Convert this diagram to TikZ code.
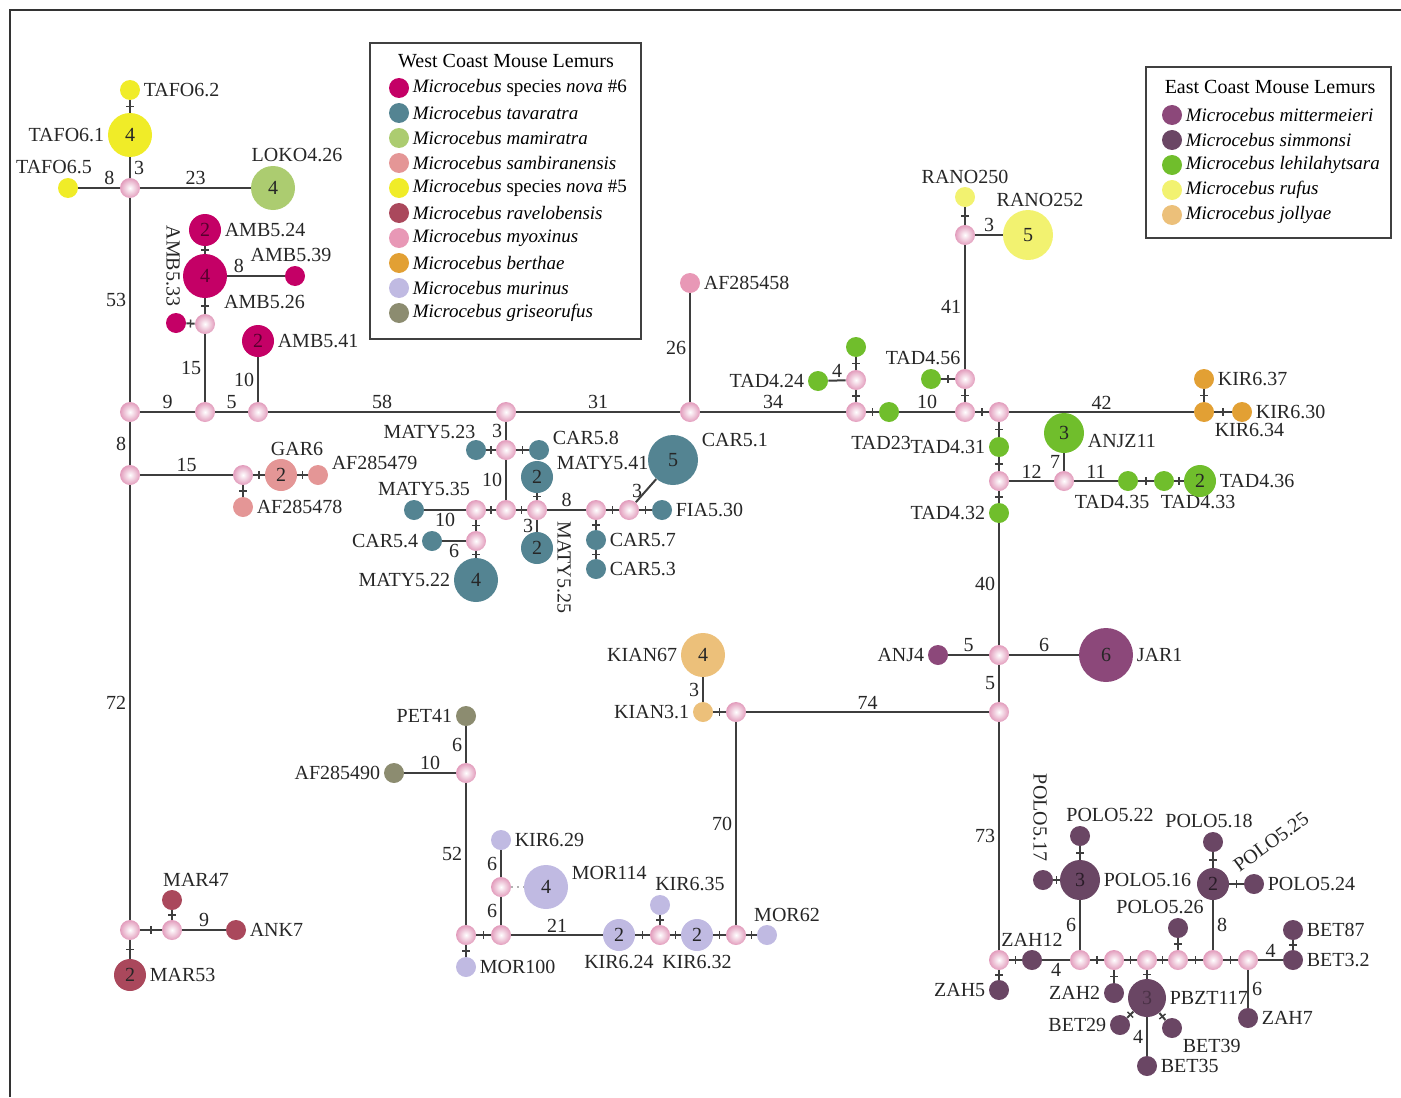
\documentclass[tikz,border=0pt]{standalone}
\usepackage{fontspec}
\setmainfont{Liberation Serif}
\usepackage{xcolor}
\usepackage{tikz}
\usetikzlibrary{positioning}

\definecolor{novasix}{RGB}{196,0,102}
\definecolor{tavaratra}{RGB}{84,132,146}
\definecolor{mamiratra}{RGB}{172,204,112}
\definecolor{sambiran}{RGB}{228,150,150}
\definecolor{novafive}{RGB}{240,236,40}
\definecolor{ravelo}{RGB}{170,72,92}
\definecolor{myoxinus}{RGB}{232,152,182}
\definecolor{berthae}{RGB}{226,160,52}
\definecolor{murinus}{RGB}{192,186,226}
\definecolor{griseo}{RGB}{140,140,112}
\definecolor{mitter}{RGB}{140,72,122}
\definecolor{simmonsi}{RGB}{106,70,100}
\definecolor{lehila}{RGB}{112,190,44}
\definecolor{rufus}{RGB}{242,242,112}
\definecolor{jollyae}{RGB}{236,192,122}
\definecolor{medpink}{RGB}{226,156,188}
\definecolor{linegray}{RGB}{62,62,62}

\begin{document}
\begin{tikzpicture}[
  x=0.5pt, y=-0.5pt,
  font=\fontsize{10}{12}\selectfont
]
\tikzset{
    hap/.style = {circle, inner sep=0pt, minimum size=10pt, text=black!85},
    hapII/.style = {hap, minimum size=16pt},
    hapIII/.style = {hap, minimum size=20pt},
    hapIV/.style = {hap, minimum size=22pt},
    hapV/.style = {hap, minimum size=25pt},
    hapVI/.style = {hap, minimum size=27pt},
    med/.style = {circle, inner sep=0pt, minimum size=10pt, shade, inner color=white, outer color=medpink},
    conn/.style = {draw=linegray, line width=1pt},
    mutmark/.style = {midway, sloped, fill=linegray, inner sep=0pt, minimum width=0.7pt, minimum height=4pt},
    edgelabL/.style = {midway, left, inner sep=1.5pt, text=black!85},
    edgelabR/.style = {midway, right, inner sep=1.5pt, text=black!85},
    edgelabA/.style = {midway, above, inner sep=1pt, text=black!85},
    edgelabAL/.style = {edgelabA, pos=0.2},
    edgelabAR/.style = {edgelabA, pos=0.75},
    edgelabB/.style = {midway, below, inner sep=1pt, text=black!85},
    every label/.style = {inner sep=1.5pt, text=black!85},
    legframe/.style = {draw=black!75, line width=1pt},
    legkey/.style = {circle, inner sep=0pt, minimum size=10pt}
}
\useasboundingbox (0,0) rectangle (1401,1097);
\draw[line width=1pt, black!80] (10,1097) -- (10,10) -- (1401,10);

% west: TAFO / AMB / LOKO
\node[hapIV, fill=novafive, label=left:TAFO6.1] (TAFO61) at (130,135) {4};
\node[hap, fill=novafive, label=right:TAFO6.2] (TAFO62) at (130,90) {};
\node[hap, fill=novafive, label={[xshift=-7pt]above:TAFO6.5}] (TAFO65) at (68,188) {};
\node[med] (M1) at (130,188) {};
\node[hapIV, fill=mamiratra, label={[xshift=12pt]above:LOKO4.26}] (LOKO426) at (273,188) {4};
\node[med] (M2) at (130,412) {};
\node[med] (M3) at (205,412) {};
\node[med] (M4) at (258,412) {};
\node[med] (M5) at (205,324) {};
\node[hap, fill=novasix] (AMB533) at (176,323) {};
\node[rotate=-90, anchor=east, inner sep=3pt, text=black!85] (lAMB533) at ([xshift=-1.5pt]AMB533.north) {AMB5.33};
\node[hapIV, fill=novasix, text=novasix!45!black, label=below right:AMB5.26] (AMB526) at (205,276) {4};
\node[hapII, fill=novasix, text=novasix!45!black, label=right:AMB5.24] (AMB524) at (205,230) {2};
\node[hap, fill=novasix, label={[xshift=-2pt]above:AMB5.39}] (AMB539) at (295,276) {};
\node[hapII, fill=novasix, text=novasix!45!black, label=right:AMB5.41] (AMB541) at (258,341) {2};

% west: GAR / MAR
\node[med] (M6) at (130,475) {};
\node[med] (M7) at (243,475) {};
\node[hapII, fill=sambiran, label={[xshift=8pt]above:GAR6}] (GAR6) at (281,475) {2};
\node[hap, fill=sambiran, label={[yshift=6pt]right:AF285479}] (AF285479) at (318,475) {};
\node[hap, fill=sambiran, label=right:AF285478] (AF285478) at (243,507) {};
\node[med] (M8) at (130,930) {};
\node[med] (M9) at (172,930) {};
\node[hap, fill=ravelo, label={[xshift=12pt]above:MAR47}] (MAR47) at (172,900) {};
\node[hap, fill=ravelo, label=right:ANK7] (ANK7) at (236,930) {};
\node[hapII, fill=ravelo, label=right:MAR53] (MAR53) at (130,975) {2};

% centre: MATY / CAR
\node[med] (M10) at (506,412) {};
\node[med] (M11) at (690,412) {};
\node[hap, fill=myoxinus, label=right:AF285458] (AF285458) at (690,283) {};
\node[med] (M12) at (856,412) {};
\node[med] (M13) at (506,450) {};
\node[hap, fill=tavaratra, label={[xshift=5pt]above left:MATY5.23}] (MATY523) at (476,450) {};
\node[hap, fill=tavaratra, label={[yshift=6pt]right:CAR5.8}] (CAR58) at (539,450) {};
\node[med] (M14) at (506,510) {};
\node[med] (M15) at (476,510) {};
\node[hap, fill=tavaratra, label={[xshift=5pt]above:MATY5.35}] (MATY535) at (414,510) {};
\node[med] (M16) at (476,541) {};
\node[hap, fill=tavaratra, label=left:CAR5.4] (CAR54) at (432,541) {};
\node[hapIV, fill=tavaratra, label=left:MATY5.22] (MATY522) at (476,580) {4};
\node[med] (M17) at (537,510) {};
\node[hapII, fill=tavaratra, label={[yshift=7pt]right:MATY5.41}] (MATY541) at (537,477) {2};
\node[hapII, fill=tavaratra] (MATY525) at (537,548) {2};
\node[rotate=-90, anchor=south west, inner sep=1pt, text=black!85] (lMATY525) at (555,519) {MATY5.25};
\node[med] (M18) at (596,510) {};
\node[hap, fill=tavaratra, label=right:CAR5.7] (CAR57) at (596,540) {};
\node[hap, fill=tavaratra, label=right:CAR5.3] (CAR53) at (596,569) {};
\node[med] (M19) at (629,510) {};
\node[hap, fill=tavaratra, label=right:FIA5.30] (FIA530) at (662,510) {};
\node[hapV, fill=tavaratra, label={[yshift=10pt]right:CAR5.1}] (CAR51) at (673,460) {5};

% east: TAD / RANO / KIR
\node[med] (M20) at (856,380) {};
\node[hap, fill=lehila] (TADtop) at (856,347) {};
\node[hap, fill=lehila, label=left:TAD4.24] (TAD424) at (818,381) {};
\node[hap, fill=lehila, label={[xshift=-4pt, yshift=-5pt]below:TAD23}] (TAD23) at (889,412) {};
\node[med] (M21) at (965,412) {};
\node[med] (M22) at (965,379) {};
\node[hap, fill=lehila, label={[xshift=-4pt]above:TAD4.56}] (TAD456) at (931,379) {};
\node[med] (M23) at (965,235) {};
\node[hap, fill=rufus, label=above:RANO250] (RANO250) at (965,197) {};
\node[hapV, fill=rufus, label={[xshift=6pt]above:RANO252}] (RANO252) at (1028,235) {5};
\node[med] (M24) at (999,412) {};
\node[hap, fill=berthae, label=below right:KIR6.34] (KIR634) at (1204,412) {};
\node[hap, fill=berthae, label=right:KIR6.37] (KIR637) at (1204,379) {};
\node[hap, fill=berthae, label=right:KIR6.30] (KIR630) at (1242,412) {};
\node[hap, fill=lehila, label=left:TAD4.31] (TAD431) at (999,447) {};
\node[med] (M25) at (999,481) {};
\node[med] (M26) at (1064,481) {};
\node[hapIII, fill=lehila, label={[yshift=-4pt]right:ANJZ11}] (ANJZ11) at (1064,433) {3};
\node[hap, fill=lehila, label={[xshift=-8pt]below:TAD4.35}] (TAD435) at (1128,481) {};
\node[hap, fill=lehila, label={[xshift=17pt]below:TAD4.33}] (TAD433) at (1164,481) {};
\node[hapII, fill=lehila, label=right:TAD4.36] (TAD436) at (1200,481) {2};
\node[hap, fill=lehila, label=left:TAD4.32] (TAD432) at (999,513) {};

% east: JAR / KIAN / MOR
\node[med] (M27) at (999,655) {};
\node[hap, fill=mitter, label=left:ANJ4] (ANJ4) at (938,655) {};
\node[hapVI, fill=mitter, label=right:JAR1] (JAR1) at (1106,655) {6};
\node[med] (M28) at (999,712) {};
\node[med] (M29) at (736,712) {};
\node[hap, fill=jollyae, label=left:KIAN3.1] (KIAN31) at (703,712) {};
\node[hapIV, fill=jollyae, label=left:KIAN67] (KIAN67) at (703,655) {4};
\node[med] (M30) at (736,935) {};
\node[hap, fill=murinus, label={[xshift=10pt]above:MOR62}] (MOR62) at (767,935) {};
\node[hapII, fill=murinus, label=below:KIR6.32] (KIR632) at (697,935) {2};
\node[med] (M31) at (660,935) {};
\node[hap, fill=murinus, label={[xshift=15pt]above:KIR6.35}] (KIR635) at (660,905) {};
\node[hapII, fill=murinus, label=below:KIR6.24] (KIR624) at (619,935) {2};
\node[med] (M32) at (501,935) {};
\node[med] (M33) at (501,887) {};
\node[hap, fill=murinus, label=right:KIR6.29] (KIR629) at (501,840) {};
\node[hapIV, fill=murinus, label={[yshift=7pt]right:MOR114}] (MOR114) at (546,887) {4};
\node[med] (M34) at (466,935) {};
\node[hap, fill=murinus, label=right:MOR100] (MOR100) at (466,967) {};
\node[med] (M35) at (466,773) {};
\node[hap, fill=griseo, label=left:AF285490] (AF285490) at (394,773) {};
\node[hap, fill=griseo, label=left:PET41] (PET41) at (466,716) {};

% east: POLO / BET / ZAH
\node[med] (M36) at (999,960) {};
\node[hap, fill=simmonsi, label=left:ZAH5] (ZAH5) at (999,990) {};
\node[hap, fill=simmonsi, label=above:ZAH12] (ZAH12) at (1032,960) {};
\node[med] (M37) at (1080,960) {};
\node[hapIII, fill=simmonsi, text=simmonsi!40!black, label=right:POLO5.16] (POLO516) at (1080,880) {3};
\node[hap, fill=simmonsi, label={[xshift=15pt]above:POLO5.22}] (POLO522) at (1080,836) {};
\node[hap, fill=simmonsi] (POLO517) at (1043,880) {};
\node[rotate=-90, anchor=east, inner sep=4pt, text=black!85] (lPOLO517) at ([xshift=-1.5pt]POLO517.north) {POLO5.17};
\node[med] (M38) at (1114,960) {};
\node[hap, fill=simmonsi, label=left:ZAH2] (ZAH2) at (1114,993) {};
\node[med] (M39) at (1147,960) {};
\node[hap, fill=simmonsi, minimum size=19pt, text=simmonsi!70!black, label=right:PBZT117] (PBZT117) at (1147,998) {3};
\node[hap, fill=simmonsi, label=left:BET29] (BET29) at (1120,1025) {};
\node[hap, fill=simmonsi, label=below right:BET39] (BET39) at (1172,1028) {};
\node[hap, fill=simmonsi, label=right:BET35] (BET35) at (1147,1066) {};
\node[med] (M40) at (1178,960) {};
\node[hap, fill=simmonsi, label={[xshift=-9pt]above:POLO5.26}] (POLO526) at (1178,928) {};
\node[med] (M41) at (1213,960) {};
\node[hapII, fill=simmonsi, text=simmonsi!40!black] (POLO525) at (1213,884) {2};
\node[rotate=36, inner sep=0pt, text=black!85] (lPOLO525) at (1271,842) {POLO5.25};
\node[hap, fill=simmonsi, label={[xshift=-2pt]above:POLO5.18}] (POLO518) at (1213,842) {};
\node[hap, fill=simmonsi, label=right:POLO5.24] (POLO524) at (1254,884) {};
\node[med] (M42) at (1248,960) {};
\node[hap, fill=simmonsi, label=right:BET3.2] (BET32) at (1293,960) {};
\node[hap, fill=simmonsi, label=right:BET87] (BET87) at (1293,930) {};
\node[hap, fill=simmonsi, label=right:ZAH7] (ZAH7) at (1248,1018) {};

% one-step links
\foreach \a/\b in {TAFO62/TAFO61, M5/AMB533, M5/AMB526, AMB526/AMB524,
    M7/GAR6, GAR6/AF285479, M7/AF285478, M8/M9, M9/MAR47, M8/MAR53,
    M13/MATY523, M13/CAR58, M14/M15, M15/M16, M16/MATY522, M14/M17,
    M17/MATY541, M18/CAR57, CAR57/CAR53, M18/M19, M19/FIA530,
    M12/M20, M20/TADtop, M12/TAD23, M21/M22, M22/TAD456, M23/RANO250,
    M21/M24, KIR634/KIR637, KIR634/KIR630, M24/TAD431, TAD431/M25,
    TAD435/TAD433, TAD433/TAD436, M25/TAD432, M29/KIAN31,
    M30/MOR62, M30/KIR632, KIR632/M31, M31/KIR635, M31/KIR624,
    M32/M34, M34/MOR100, M36/ZAH5, M36/ZAH12, POLO516/POLO522,
    POLO516/POLO517, M37/M38, M38/ZAH2, M38/M39, M39/PBZT117,
    PBZT117/BET29, PBZT117/BET39, M39/M40, M40/POLO526, M40/M41,
    POLO525/POLO518, POLO525/POLO524, M41/M42, BET32/BET87}
  \draw[conn] (\a) -- node[mutmark] {} (\b);

% links with step counts
\foreach \a/\b/\n/\s in {TAFO61/M1/3/edgelabR, TAFO65/M1/8/edgelabAR,
    M1/LOKO426/23/edgelabA, M1/M2/53/edgelabL, M2/M3/9/edgelabA,
    M3/M4/5/edgelabA, M3/M5/15/edgelabL, AMB526/AMB539/8/edgelabAL,
    M4/AMB541/10/edgelabL, M2/M6/8/edgelabL, M6/M7/15/edgelabA,
    M6/M8/72/edgelabL, M9/ANK7/9/edgelabA, M4/M10/58/edgelabA,
    M10/M11/31/edgelabA, M11/AF285458/26/edgelabL, M11/M12/34/edgelabA,
    M10/M13/3/edgelabL, M13/M14/10/edgelabL, M15/MATY535/10/edgelabB,
    M16/CAR54/6/edgelabB, M17/MATY525/3/edgelabL, M17/M18/8/edgelabA,
    M19/CAR51/3/edgelabL, M20/TAD424/4/edgelabA, TAD23/M21/10/edgelabA,
    M22/M23/41/edgelabL, M23/RANO252/3/edgelabA, M24/KIR634/42/edgelabA,
    M25/M26/12/edgelabA, M26/ANJZ11/7/edgelabL, M26/TAD435/11/edgelabA,
    TAD432/M27/40/edgelabL, M27/ANJ4/5/edgelabA, M27/JAR1/6/edgelabA,
    M27/M28/5/edgelabL, M28/M29/74/edgelabA, KIAN31/KIAN67/3/edgelabL,
    M29/M30/70/edgelabL, KIR624/M32/21/edgelabA, M32/M33/6/edgelabL,
    M33/KIR629/6/edgelabL, M34/M35/52/edgelabL, M35/AF285490/10/edgelabA,
    M35/PET41/6/edgelabL, M28/M36/73/edgelabL, ZAH12/M37/4/edgelabB,
    M37/POLO516/6/edgelabL, PBZT117/BET35/4/edgelabL, M41/POLO525/8/edgelabR,
    M42/BET32/4/edgelabA, M42/ZAH7/6/edgelabR}
  \draw[conn] (\a) -- node[\s] {\n} (\b);

\draw[conn, draw=gray!60, dotted] (M33) -- (MOR114);

% west coast legend
\draw[legframe] (370,43) rectangle (641,339);
\node (wTitle) at (506,61) {West Coast Mouse Lemurs};
\foreach \c/\t [count=\i] in {novasix/{\textit{Microcebus} species \textit{nova} \#6},
    tavaratra/{\textit{Microcebus tavaratra}}, mamiratra/{\textit{Microcebus mamiratra}},
    sambiran/{\textit{Microcebus sambiranensis}}, novafive/{\textit{Microcebus} species \textit{nova} \#5},
    ravelo/{\textit{Microcebus ravelobensis}}, myoxinus/{\textit{Microcebus myoxinus}},
    berthae/{\textit{Microcebus berthae}}, murinus/{\textit{Microcebus murinus}},
    griseo/{\textit{Microcebus griseorufus}}}
{
  \node[legkey, fill=\c] (wk\i) at (399,63+25*\i) {};
  \node[anchor=west, inner sep=1.5pt, font=\fontsize{9.5}{11}\selectfont] (wt\i) at (wk\i.east) {\t};
}

% east coast legend
\draw[legframe] (1146,67) rectangle (1391,238);
\node (eTitle) at (1270,87) {East Coast Mouse Lemurs};
\foreach \c/\t [count=\i] in {mitter/{\textit{Microcebus mittermeieri}},
    simmonsi/{\textit{Microcebus simmonsi}}, lehila/{\textit{Microcebus lehilahytsara}},
    rufus/{\textit{Microcebus rufus}}, jollyae/{\textit{Microcebus jollyae}}}
{
  \node[legkey, fill=\c] (ek\i) at (1172,90+25*\i) {};
  \node[anchor=west, inner sep=1.5pt, font=\fontsize{9.5}{11}\selectfont] (et\i) at (ek\i.east) {\t};
}
\end{tikzpicture}
\end{document}
